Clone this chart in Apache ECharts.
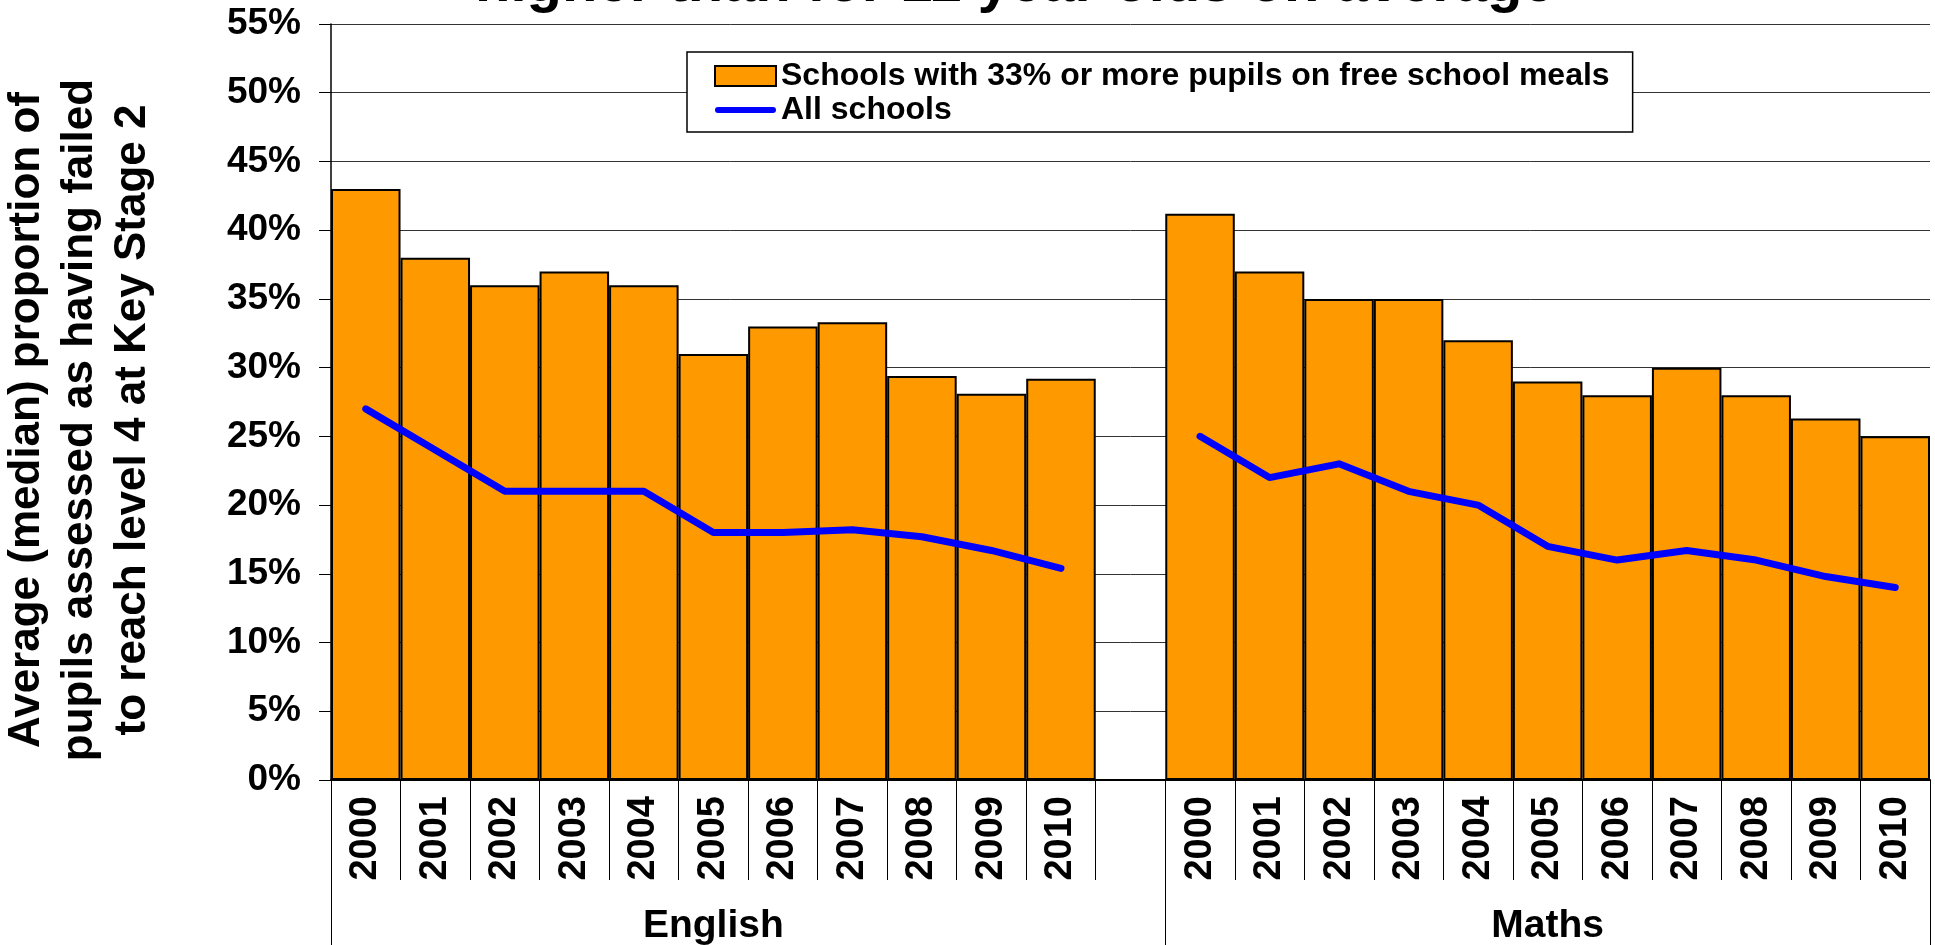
<!DOCTYPE html>
<html>
<head>
<meta charset="utf-8">
<title>Key Stage 2 failures</title>
<style>
  html, body { margin: 0; padding: 0; background: #fff; }
  #main { width: 1935px; height: 945px; }
</style>
</head>
<body>
<div id="main"></div>
<script src="https://cdn.jsdelivr.net/npm/echarts@6/dist/echarts.min.js"></script>
<script>
// values (percent)
var years = ['2000', '2001', '2002', '2003', '2004', '2005', '2006', '2007', '2008', '2009', '2010'];
var groups = ['English', 'Maths'];
var englishFsm = [43, 38, 36, 37, 36, 31, 33, 33.3, 29.4, 28.1, 29.2];
var englishAll = [27, 24, 21, 21, 21, 18, 18, 18.2, 17.7, 16.7, 15.4];
var mathsFsm = [41.2, 37, 35, 35, 32, 29, 28, 30, 28, 26.3, 25];
var mathsAll = [25, 22, 23, 21, 20, 17, 16, 16.7, 16, 14.8, 14];
var yTicks = { min: 0, max: 55, step: 5 };

var font = '"Liberation Sans", Arial, sans-serif';

// one empty slot between the two subject groups
var categories = years.concat([''], years);
var fsmData = englishFsm.concat([null], mathsFsm);
var allData = englishAll.concat([null], mathsAll);
var groupCats = categories.map(function () { return ''; });
var mid = Math.floor(years.length / 2);
groupCats[mid] = groups[0];
groupCats[years.length + 1 + mid] = groups[1];

var myChart = echarts.init(document.getElementById('main'));
var option = {
    animation: false,
    textStyle: { fontFamily: font },
    title: {
        text: 'higher than for 11 year olds on average',
        left: 475,
        top: -44,
        padding: 0,
        textStyle: { fontSize: 58, fontWeight: 'bold', color: '#000', fontFamily: font }
    },
    legend: {
        orient: 'vertical',
        left: 687,
        top: 52,
        padding: [8, 23, 6, 27],
        itemGap: 2,
        itemWidth: 61,
        itemHeight: 20,
        backgroundColor: '#fff',
        borderColor: '#000',
        borderWidth: 1.5,
        borderRadius: 0,
        textStyle: { fontSize: 32, fontWeight: 'bold', color: '#000', fontFamily: font },
        data: [
            { name: 'Schools with 33% or more pupils on free school meals', icon: 'rect' },
            {
                name: 'All schools',
                icon: 'path://M3,0 L57,0 A3,3 0 0 1 57,6 L3,6 A3,3 0 0 1 3,0 Z',
                itemStyle: { color: '#0000FF', borderWidth: 0 }
            }
        ]
    },
    grid: {
        left: 331,
        right: 5,
        top: 24,
        bottom: 165,
        containLabel: false,
        outerBoundsMode: 'none'
    },
    xAxis: [{
        type: 'category',
        data: categories,
        boundaryGap: true,
        axisLine: { show: true, lineStyle: { color: '#000', width: 2 } },
        axisTick: { show: true, interval: 0, length: 100, lineStyle: { color: '#000', width: 1 } },
        axisLabel: {
            interval: 0, rotate: 90, margin: 16,
            fontSize: 38, fontWeight: 'bold', color: '#000', fontFamily: font
        },
        splitLine: { show: false }
    }, {
        type: 'category',
        data: groupCats,
        position: 'bottom',
        offset: 0,
        boundaryGap: true,
        axisLine: { show: false },
        axisTick: {
            show: true, length: 170,
            interval: function (i) { return i === 0 || i === years.length + 1; },
            lineStyle: { color: '#000', width: 1 }
        },
        axisLabel: {
            interval: 0, margin: 127,
            fontSize: 39, fontWeight: 'bold', color: '#000', fontFamily: font
        },
        splitLine: { show: false }
    }],
    yAxis: {
        type: 'value',
        min: yTicks.min,
        max: yTicks.max,
        interval: yTicks.step,
        name: 'Average (median) proportion of\npupils assessed as having failed\nto reach level 4 at Key Stage 2',
        nameLocation: 'middle',
        nameRotate: 90,
        nameGap: 172,
        nameTextStyle: {
            fontSize: 44, fontWeight: 'bold', color: '#000', lineHeight: 53,
            padding: [0, 36, 0, 0], fontFamily: font
        },
        axisLine: { show: true, lineStyle: { color: '#000', width: 1.5 } },
        axisTick: { show: true, length: 12, lineStyle: { color: '#000' } },
        axisLabel: {
            formatter: '{value}%', margin: 30,
            fontSize: 37, fontWeight: 'bold', color: '#000', fontFamily: font
        },
        splitLine: { show: true, lineStyle: { color: '#333', width: 1 } }
    },
    series: [{
        name: 'Schools with 33% or more pupils on free school meals',
        type: 'bar',
        data: fsmData,
        barCategoryGap: '0%',
        itemStyle: { color: '#FF9900', borderColor: '#000', borderWidth: 2 }
    }, {
        name: 'All schools',
        type: 'line',
        data: allData,
        symbol: 'none',
        connectNulls: false,
        lineStyle: { color: '#0000FF', width: 7, cap: 'round', join: 'round' },
        itemStyle: { color: '#0000FF' }
    }]
};
myChart.setOption(option);
</script>
</body>
</html>
